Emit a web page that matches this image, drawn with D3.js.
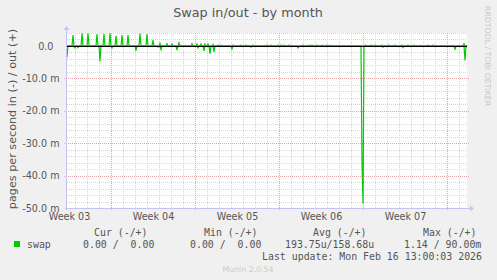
<!DOCTYPE html>
<html>
<head>
<meta charset="utf-8">
<script src="https://cdn.jsdelivr.net/npm/d3@7"></script>
<style>
  body { margin: 0; background: #f0f0f0; }
  svg { display: block; }
</style>
</head>
<body>
<svg id="chart"></svg>
<script>
// RRD samples: [hours since graph start, value in milli pages/s]; unlisted samples are 0
const swapOut = [[12, 3.4], [30, 3.9], [42, 3.9], [60, 3.7], [74, 3.7], [86, 3.9], [98, 3.1], [110, 3.4],
  [122, 3.4], [146, 3.8], [160, 3.7], [172, 1.8], [186, 0.8], [200, 0.7], [210, 0.6], [224, 1.0],
  [250, 0.7], [260, 0.6], [268, 0.6], [276, 0.6], [282, 0.6], [292, 0.5], [302, 0.3], [308, 0.3],
  [332, 0.3], [348, 0.3], [358, 0.3], [372, 0.3], [400, 0.3], [408, 0.3], [422, 0.3], [428, 0.3],
  [434, 0.3], [444, 0.3], [472, 0.3], [484, 0.3], [490, 0.3], [500, 0.3], [510, 0.3], [520, 0.3],
  [526, 0.2], [596, 0.3], [608, 0.3], [616, 0.3], [630, 0.3], [644, 0.3], [656, 0.3], [670, 0.3],
  [682, 0.3], [694, 0.3], [706, 0.2], [722, 0.3], [732, 0.3], [794, 0.7]]
const swapIn = [[0, 3.5], [16, 0.6], [22, 0.5], [66, 4.8], [90, 0.6], [138, 1.4], [182, 0.3], [188, 1.1],
  [220, 1.3], [262, 0.6], [274, 1.5], [286, 2.4], [294, 1.8], [330, 0.9], [368, 0.4], [462, 0.6],
  [590, 36], [592, 48.6], [632, 0.4], [672, 0.5], [776, 1.0], [796, 4.5]]

const weekLines = [88, 256, 424, 592, 760]
const weekMids = [4, 172, 340, 508, 676]
const weekLabels = ["Week 03", "Week 04", "Week 05", "Week 06", "Week 07"]
const yTicks = [0, -10, -20, -30, -40, -50]

const legendHeads = ["Cur (-/+)", "Min (-/+)", "Avg (-/+)", "Max (-/+)"]
const legendValues = ["0.00 /  0.00", "0.00 /  0.00", "193.75u/158.68u", "1.14 / 90.00m"]
const lastUpdate = "Last update: Mon Feb 16 13:00:03 2026"

const width = 497, height = 280
const step = 2, span = 800
const textColor = "#555"

const svg = d3.select("#chart").attr("width", width).attr("height", height)
  .style("font-family", "'DejaVu Sans', sans-serif")

const x = d3.scaleLinear().domain([0, span]).range([67, 467])
const y = d3.scaleLinear().domain([-50, 4]).range([208, 33])

// plot background
svg.append("rect")
  .attr("x", x(0)).attr("y", y(4))
  .attr("width", x(span) - x(0)).attr("height", y(-50) - y(4))
  .attr("fill", "#fff")

// grid
const grid = svg.append("g").attr("shape-rendering", "crispEdges").attr("stroke-dasharray", "1,1")
  .attr("stroke-width", 1).attr("fill", "none")

grid.selectAll(".vminor")
  .data(d3.range(16, span, 24).filter(h => !weekLines.includes(h)))
  .join("line")
  .attr("x1", d => x(d) + 0.5).attr("x2", d => x(d) + 0.5)
  .attr("y1", y(4)).attr("y2", y(-50))
  .attr("stroke", "#d6d6d6")

grid.selectAll(".hminor")
  .data(d3.range(-48, 5, 2).filter(v => v % 10 !== 0))
  .join("line")
  .attr("x1", x(0)).attr("x2", x(span))
  .attr("y1", d => Math.round(y(d)) + 0.5).attr("y2", d => Math.round(y(d)) + 0.5)
  .attr("stroke", "#d6d6d6")

grid.selectAll(".vmajor")
  .data(weekLines)
  .join("line")
  .attr("x1", d => x(d) + 0.5).attr("x2", d => x(d) + 0.5)
  .attr("y1", y(4)).attr("y2", y(-50) + 3)
  .attr("stroke", "#eaa6a6")

grid.selectAll(".hmajor")
  .data(yTicks.filter(v => v !== 0 && v !== -50))
  .join("line")
  .attr("x1", x(0) - 3).attr("x2", x(span) + 2)
  .attr("y1", d => Math.round(y(d)) + 0.5).attr("y2", d => Math.round(y(d)) + 0.5)
  .attr("stroke", "#eaa6a6")

// fill in the zero samples on either side of each non-zero one
function withZeros(samples) {
  const byHour = new Map(samples)
  const hours = new Set([0, span])
  samples.forEach(([h]) => {
    [h - step, h, h + step].forEach(t => { if (t >= 0 && t <= span) hours.add(t) })
  })
  return Array.from(hours).sort((a, b) => a - b).map(h => [h, byHour.get(h) || 0])
}

const line = d3.line().x(d => x(d[0])).y(d => y(d[1]))

svg.append("path")
  .datum(withZeros(swapIn).map(d => [d[0], -d[1]]))
  .attr("d", line)
  .attr("fill", "none").attr("stroke", "#00cc00").attr("stroke-width", 1.2)

svg.append("path")
  .datum(withZeros(swapOut))
  .attr("d", line)
  .attr("fill", "none").attr("stroke", "#00cc00").attr("stroke-width", 1.2)

// zero rule
svg.append("line")
  .attr("x1", x(0)).attr("x2", x(span))
  .attr("y1", Math.round(y(0)) + 0.5).attr("y2", Math.round(y(0)) + 0.5)
  .attr("stroke", "#000").attr("stroke-width", 1)

// axis lines with arrows
const axisColor = "#c4c4f0"
svg.append("line")
  .attr("x1", x(0) - 2).attr("x2", x(span) + 3)
  .attr("y1", Math.round(y(-50)) + 0.5).attr("y2", Math.round(y(-50)) + 0.5)
  .attr("stroke", axisColor).attr("shape-rendering", "crispEdges")
svg.append("line")
  .attr("x1", x(0) - 0.5).attr("x2", x(0) - 0.5)
  .attr("y1", y(-50) + 2).attr("y2", y(4) - 3)
  .attr("stroke", axisColor).attr("shape-rendering", "crispEdges")
const ax = x(span) + 3, ay = Math.round(y(-50)) + 0.5
svg.append("path")
  .attr("d", `M${ax},${ay - 3}L${ax + 4},${ay}L${ax},${ay + 3}Z`)
  .attr("fill", axisColor)
const tx = x(0) - 0.5, ty = y(4) - 3
svg.append("path")
  .attr("d", `M${tx - 3},${ty}L${tx},${ty - 4}L${tx + 3},${ty}Z`)
  .attr("fill", axisColor)

// y axis labels
const yAxis = svg.append("g")
  .attr("transform", `translate(${x(0) - 7.5},0)`)
  .call(d3.axisLeft(y).tickValues(yTicks).tickSize(0).tickPadding(0)
    .tickFormat(d => d === 0 ? "0.0\u00a0\u00a0" : `${d.toFixed(1)} m`))
yAxis.select(".domain").remove()
yAxis.selectAll("text")
  .attr("fill", textColor)
  .style("font-family", "'DejaVu Sans', sans-serif")
  .style("font-size", "9.6px")

// x axis labels
const xAxis = svg.append("g")
  .attr("transform", `translate(0,${y(-50) + 5.5})`)
  .call(d3.axisBottom(x).tickValues(weekMids).tickSize(0).tickPadding(0)
    .tickFormat((d, i) => weekLabels[i]))
xAxis.select(".domain").remove()
xAxis.selectAll("text")
  .attr("fill", textColor)
  .style("font-family", "'DejaVu Sans', sans-serif")
  .style("font-size", "9.6px")

// title
svg.append("text")
  .attr("x", 248).attr("y", 17)
  .attr("text-anchor", "middle")
  .attr("fill", textColor)
  .style("font-size", "12.8px")
  .text("Swap in/out - by month")

// vertical axis title
svg.append("text")
  .attr("transform", "translate(16,119) rotate(-90)")
  .attr("text-anchor", "middle")
  .attr("fill", textColor)
  .style("font-size", "11.2px")
  .text("pages per second in (-) / out (+)")

// watermark
svg.append("text")
  .attr("transform", "translate(485,56) rotate(90)")
  .attr("text-anchor", "middle")
  .attr("fill", "#c8c8c8")
  .style("font-size", "7.8px")
  .text("RRDTOOL / TOBI OETIKER")

// legend
const mono = "'DejaVu Sans Mono', monospace"
const legend = svg.append("g")
  .style("font-family", mono).style("font-size", "9.9px")
  .attr("fill", textColor)
  .attr("xml:space", "preserve")

const headX = [94, 204, 313, 423]
const valueX = [83, 190, 285, 404]

legend.selectAll(".head")
  .data(legendHeads)
  .join("text")
  .attr("x", (d, i) => headX[i]).attr("y", 236)
  .style("white-space", "pre")
  .text(d => d)

legend.append("rect")
  .attr("x", 14).attr("y", 241).attr("width", 6).attr("height", 6)
  .attr("fill", "#00cc00")
legend.append("text").attr("x", 27).attr("y", 247.5).text("swap")

legend.selectAll(".val")
  .data(legendValues)
  .join("text")
  .attr("x", (d, i) => valueX[i]).attr("y", 247.5)
  .style("white-space", "pre")
  .text(d => d)

legend.append("text")
  .attr("x", 482).attr("y", 260)
  .attr("text-anchor", "end")
  .text(lastUpdate)

svg.append("text")
  .attr("x", 248).attr("y", 272)
  .attr("text-anchor", "middle")
  .attr("fill", "#cccccc")
  .style("font-size", "7.8px")
  .text("Munin 2.0.54")
</script>
</body>
</html>
